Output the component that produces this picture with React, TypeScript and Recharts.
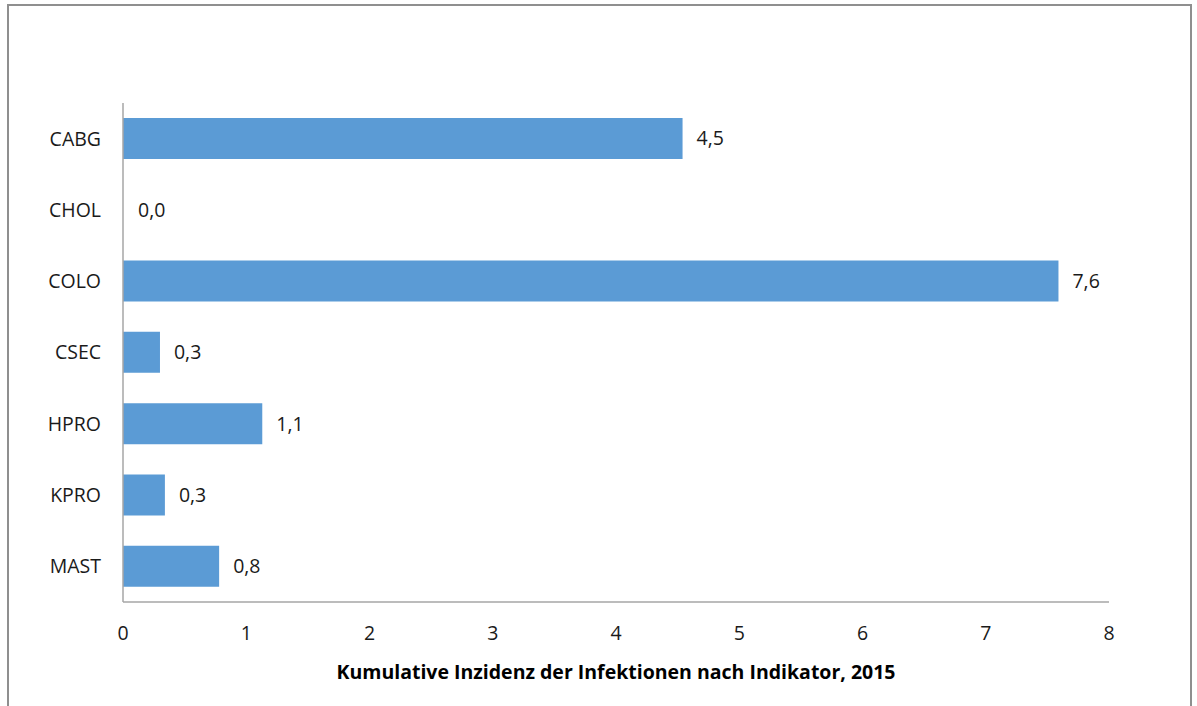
import { BarChart, Bar, XAxis, YAxis, Cell } from 'recharts'

const categories = ['CABG', 'CHOL', 'COLO', 'CSEC', 'HPRO', 'KPRO', 'MAST']
const incidence = [4.54, 0, 7.59, 0.3, 1.13, 0.34, 0.78]
const xTicks = [0, 1, 2, 3, 4, 5, 6, 7, 8]

const data = categories.map((name, i) => ({ name, value: incidence[i] }))

const font = '"Open Sans", sans-serif'

// value labels to the right of each bar
const renderValue = (props: any) => {
  const { x, y, width, height, value, index } = props
  return (
    <text
      key={`lbl-${index}`}
      x={Number(x) + Number(width || 0) + 14}
      y={Number(y) + Number(height) / 2}
      dy="0.355em"
      fill="#1a1a1a"
      fontSize={19.5}
      fontFamily={font}
    >
      {Number(value).toFixed(1).replace('.', ',')}
    </text>
  )
}

export default function App() {
  return (
    <div style={{ position: 'fixed', left: 0, top: 0, width: 1197, height: 706, background: '#fff', overflow: 'hidden' }}>
      {/* outer frame, bottom edge runs off the page */}
      <div style={{ position: 'absolute', left: 7, top: 4, width: 1181, height: 740, border: '2px solid #8f8f8f' }} />
      <div style={{ position: 'absolute', left: 0, top: 0 }}>
        <BarChart
          width={1197}
          height={706}
          data={data}
          layout="vertical"
          margin={{ top: 103, right: 88, bottom: 14, left: 0 }}
          style={{ fontFamily: font }}
        >
          <XAxis
            type="number"
            domain={[0, 8]}
            ticks={xTicks}
            height={90}
            tickLine={false}
            axisLine={{ stroke: '#a6a6a6', strokeWidth: 1.5 }}
            tickMargin={18}
            tick={{ fill: '#1a1a1a', fontSize: 19.5, fontFamily: font }}
            label={{
              value: 'Kumulative Inzidenz der Infektionen nach Indikator, 2015',
              position: 'insideBottom',
              offset: 13,
              fill: '#000',
              fontSize: 19.5,
              fontWeight: 'bold',
              fontFamily: font,
            }}
          />
          <YAxis
            type="category"
            dataKey="name"
            width={123}
            tickLine={false}
            axisLine={{ stroke: '#a6a6a6', strokeWidth: 1.5 }}
            tickMargin={16}
            tick={{ fill: '#1a1a1a', fontSize: 19.5, fontFamily: font }}
          />
          {/* minPointSize keeps the zero bar (CHOL) so its 0,0 label is drawn */}
          <Bar
            dataKey="value"
            barSize={41}
            minPointSize={1}
            isAnimationActive={false}
            label={renderValue}
          >
            {data.map((d) => (
              <Cell key={d.name} fill={d.value === 0 ? 'transparent' : '#5b9bd5'} />
            ))}
          </Bar>
        </BarChart>
      </div>
    </div>
  )
}
